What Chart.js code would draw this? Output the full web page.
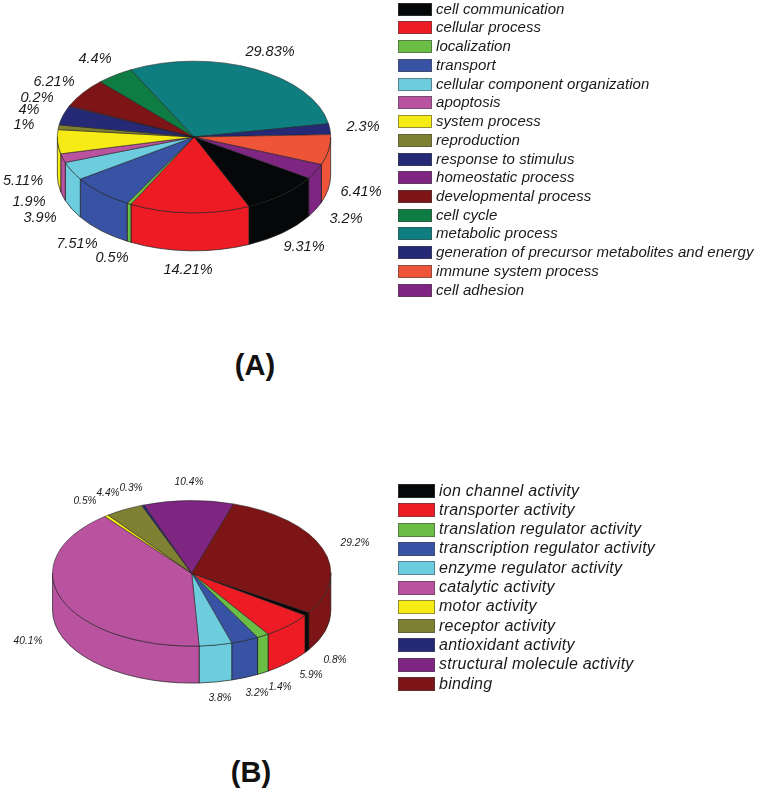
<!DOCTYPE html>
<html>
<head>
<meta charset="utf-8">
<title>Pie charts</title>
<script src="https://cdn.jsdelivr.net/npm/chart.js@4"></script>
<style>
    html, body { margin: 0; padding: 0; background: #fff; }
    #page { position: relative; width: 757px; height: 790px; overflow: hidden; font-family: "Liberation Sans", Arial, sans-serif; }
    canvas { position: absolute; left: 0; }
    .panel { position: absolute; font-weight: bold; font-size: 29px; line-height: 34px; color: #111; transform: translateX(-50%); }
    .legend-row { position: absolute; font-style: italic; color: #1a1a1a; white-space: nowrap; }
    .legend-box { position: absolute; box-sizing: border-box; border: 1px solid rgba(70, 70, 70, 0.55); }
</style>
</head>
<body>
<div id="page">
    <canvas id="pieA"></canvas>
    <canvas id="pieB"></canvas>
</div>
<script>
// Panel A
const categoriesA = ['cell communication', 'cellular process', 'localization', 'transport',
    'cellular component organization', 'apoptosis', 'system process', 'reproduction',
    'response to stimulus', 'homeostatic process', 'developmental process', 'cell cycle',
    'metabolic process', 'generation of precursor metabolites and energy',
    'immune system process', 'cell adhesion'];
const valuesA = [9.31, 14.21, 0.5, 7.51, 3.9, 1.9, 5.11, 1, 4, 0.2, 6.21, 4.4, 29.83, 2.3, 6.41, 3.2];
const colorsA = ['#050708', '#ED1C24', '#6ABD45', '#3953A4', '#6DCCDD', '#B9529F', '#F6EB14', '#808033',
    '#262A76', '#7F2682', '#7D1416', '#0F7C43', '#0E7E80', '#262A76', '#EE5538', '#7F2682'];

// Panel B
const categoriesB = ['ion channel activity', 'transporter activity', 'translation regulator activity',
    'transcription regulator activity', 'enzyme regulator activity', 'catalytic activity', 'motor activity',
    'receptor activity', 'antioxidant activity', 'structural molecule activity', 'binding'];
const valuesB = [0.8, 5.9, 1.4, 3.2, 3.8, 40.1, 0.5, 4.4, 0.3, 10.4, 29.2];
const colorsB = ['#050708', '#ED1C24', '#6ABD45', '#3953A4', '#6DCCDD', '#B9529F', '#F6EB14', '#808033',
    '#262A76', '#7F2682', '#7D1416'];

// Page positions of the percent labels, same order as the values
const labelPosA = [[304, 247], [188, 270], [112, 258], [77, 244], [40, 218], [29, 202], [23, 181], [24, 125],
    [29, 110], [37, 98], [54, 82], [95, 59], [270, 52], [363, 127], [361, 192], [346, 219]];
const labelPosB = [[335, 660], [311, 675], [280, 687], [257, 693], [220, 698], [28, 641], [85, 501],
    [108, 493], [131, 488], [189, 482], [355, 543]];

const WIDTH = 757;

// Draws the pie flattened, with the side wall under it, and the percent labels
const pie3d = {
    id: 'pie3d',
    beforeDatasetsDraw(chart) {
        const { ctx } = chart;
        const cfg = chart.canvas.pieConfig;
        const arcs = chart.getDatasetMeta(0).data;
        arcs.forEach(arc => {
            // Only the front half of the rim (0 to PI) can be seen
            [0, 2 * Math.PI].forEach(turn => {
                const a0 = Math.max(arc.startAngle, turn);
                const a1 = Math.min(arc.endAngle, turn + Math.PI);
                if (a1 <= a0) return;
                const r = arc.outerRadius;
                const ry = r * cfg.squash;
                ctx.beginPath();
                ctx.ellipse(arc.x, arc.y, r, ry, 0, a0, a1);
                ctx.ellipse(arc.x, arc.y + cfg.depth, r, ry, 0, a1, a0, true);
                ctx.closePath();
                ctx.fillStyle = arc.options.backgroundColor;
                ctx.fill();
                ctx.lineWidth = 0.7;
                ctx.strokeStyle = '#1c1c1c';
                ctx.stroke();
            });
        });
        const first = arcs[0];
        ctx.save();
        ctx.translate(first.x, first.y);
        ctx.scale(1, cfg.squash);
        ctx.translate(-first.x, -first.y);
    },
    afterDatasetsDraw(chart) {
        const { ctx } = chart;
        const cfg = chart.canvas.pieConfig;
        ctx.restore();
        ctx.font = cfg.labelFont;
        ctx.fillStyle = '#1a1a1a';
        ctx.textAlign = 'center';
        ctx.textBaseline = 'middle';
        chart.data.datasets[0].data.forEach((value, i) => {
            const [x, y] = cfg.labelPos[i];
            ctx.fillText(value + '%', x, y - cfg.top);
        });
    }
};

/**
 * Creates one flattened pie chart.
 */
function makePie(id, values, colors, cfg) {
    const canvas = document.getElementById(id);
    canvas.width = WIDTH;
    canvas.height = cfg.height;
    canvas.style.top = cfg.top + 'px';
    canvas.pieConfig = cfg;
    const cy = cfg.cy - cfg.top;
    return new Chart(canvas.getContext('2d'), {
        type: 'pie',
        data: {
            labels: cfg.categories,
            datasets: [{
                data: values,
                backgroundColor: colors,
                borderColor: '#1c1c1c',
                borderWidth: 0.7
            }]
        },
        options: {
            responsive: false,
            animation: false,
            rotation: cfg.rotation,
            layout: {
                padding: {
                    left: cfg.cx - cfg.r,
                    right: WIDTH - cfg.cx - cfg.r,
                    top: cy - cfg.r,
                    bottom: cfg.height - cy - cfg.r
                }
            },
            plugins: { legend: { display: false }, tooltip: { enabled: false } }
        },
        plugins: [pie3d]
    });
}

/**
 * Writes the legend next to a pie.
 */
function makeLegend(categories, colors, cfg) {
    const page = document.getElementById('page');
    categories.forEach((name, i) => {
        const center = cfg.y + i * cfg.step;
        const box = document.createElement('div');
        box.className = 'legend-box';
        box.style.cssText = `left:398px;top:${center - cfg.boxH / 2}px;width:${cfg.boxW}px;height:${cfg.boxH}px;background:${colors[i]}`;
        const row = document.createElement('div');
        row.className = 'legend-row';
        row.textContent = name;
        row.style.cssText = `left:${cfg.textX}px;top:${center - 10.5}px;line-height:20px;font-size:${cfg.fontSize}px;letter-spacing:${cfg.spacing}px`;
        page.appendChild(box);
        page.appendChild(row);
    });
}

function addPanelTitle(text, x, y) {
    const el = document.createElement('div');
    el.className = 'panel';
    el.textContent = text;
    el.style.left = x + 'px';
    el.style.top = (y - 17) + 'px';
    document.getElementById('page').appendChild(el);
}

makePie('pieA', valuesA, colorsA, {
    categories: categoriesA, labelPos: labelPosA, labelFont: 'italic 14.5px "Liberation Sans", Arial, sans-serif',
    top: 0, height: 300, cx: 194, cy: 137, r: 137, squash: 0.555, depth: 38, rotation: 122.8
});
makePie('pieB', valuesB, colorsB, {
    categories: categoriesB, labelPos: labelPosB, labelFont: 'italic 10.2px "Liberation Sans", Arial, sans-serif',
    top: 433, height: 285, cx: 191.7, cy: 573.3, r: 139.5, squash: 0.523, depth: 37, rotation: 122.6
});

makeLegend(categoriesA, colorsA, { y: 9.2, step: 18.73, boxW: 34, boxH: 13, textX: 436, fontSize: 15, spacing: 0.05 });
makeLegend(categoriesB, colorsB, { y: 491, step: 19.3, boxW: 37, boxH: 14, textX: 439, fontSize: 16, spacing: 0.25 });

addPanelTitle('(A)', 255, 365);
addPanelTitle('(B)', 251, 772);
</script>
</body>
</html>
